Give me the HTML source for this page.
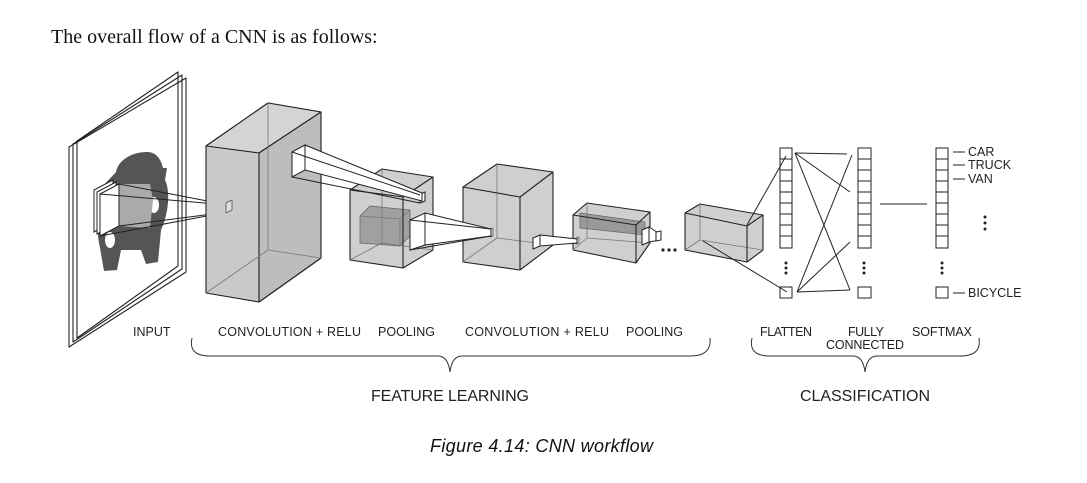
<!DOCTYPE html>
<html><head><meta charset="utf-8"><style>
html,body{margin:0;padding:0;background:#fff;width:1087px;height:483px;overflow:hidden}
svg{display:block}
</style></head><body>
<svg width="1087" height="483" viewBox="0 0 1087 483" xmlns="http://www.w3.org/2000/svg">
<text x="51" y="43" font-family="Liberation Serif, serif" font-size="20" fill="#111">The overall flow of a CNN is as follows:</text>

<g stroke="#222" stroke-width="1.1" fill="none" stroke-linejoin="round">
<polygon points="77,141 178,72 178,266 77,338"/>
<polygon points="73,144 182,75 182,269 73,342"/>
<polygon points="69,147 186,78 186,272 69,347"/>
</g>
<!-- car -->
<path d="M116,172 C118,160 132,152 147,152 C157,152 161,160 163,168 L167,168 L165,180 C171,192 168,215 161,230 L158,262 L146,264 L141,250 L121,250 L117,270 L104,271 L100,248 C96,230 96,200 101,188 Z" fill="#555"/>
<ellipse cx="154" cy="205" rx="5" ry="8" fill="#fff"/>
<ellipse cx="110" cy="240" rx="5" ry="8" fill="#fff"/>
<path d="M118,184 L150,184 L153,200 L150,228 L118,226 Z" fill="#aaa"/>
<!-- input patch -->
<g stroke="#222" stroke-width="1" fill="#fff">
<polygon points="94,190 113,180 113,222 94,232"/>
<polygon points="97,192 116,182 116,224 97,234"/>
<polygon points="100,194 119,184 119,226 100,236"/>
<line x1="119" y1="184" x2="228" y2="205"/>
<line x1="119" y1="226" x2="228" y2="212"/>
<line x1="100" y1="194" x2="228" y2="205"/>
<line x1="100" y1="236" x2="228" y2="212"/>
</g>

<g stroke="#222" stroke-width="1.1" stroke-linejoin="round">
<polygon points="206,146 268,103 321,112 321,258 259,302 206,293" fill="#c9c9c9"/>
<polygon points="206,146 268,103 321,112 259,153" fill="#d4d4d4"/>
<polygon points="259,153 321,112 321,258 259,302" fill="#bdbdbd"/>
<g stroke="#777" stroke-width="0.8" fill="none"><polyline points="268,103 268,250 321,258"/><line x1="268" y1="250" x2="206" y2="293"/></g>
<polygon points="226,203 232,200 232,210 226,213" fill="#ddd" stroke="#555" stroke-width="0.8"/>

<polygon points="350,190 382,169 433,177 433,250 403,268 350,260" fill="#cfcfcf"/>
<polygon points="360,216 370,206 410,210 410,236 400,246 360,243" fill="#a0a0a0" stroke="#666" stroke-width="0.8"/>
<g stroke="#777" stroke-width="0.8" fill="none"><polyline points="382,169 382,243 433,250"/><line x1="382" y1="243" x2="350" y2="260"/><line x1="360" y1="216" x2="400" y2="219"/><line x1="400" y1="219" x2="410" y2="210"/><line x1="400" y1="219" x2="400" y2="246"/></g>
<polyline points="350,190 403,197 433,177" fill="none"/>
<line x1="403" y1="197" x2="403" y2="268"/>
<polygon points="420,194 425,192 425,201 420,203" fill="#fff"/>

<polygon points="463,187 497,164 553,172 553,245 520,270 463,262" fill="#cfcfcf"/>
<g stroke="#777" stroke-width="0.8" fill="none"><polyline points="497,164 497,238 553,245"/><line x1="497" y1="238" x2="463" y2="262"/></g>
<polyline points="463,187 520,197 553,172" fill="none"/>
<line x1="520" y1="197" x2="520" y2="270"/>
<polygon points="490,229 493,228 493,236 490,237" fill="#ddd" stroke="#555" stroke-width="0.7"/>

<polygon points="573,215 587,203 650,212 650,243 636,263 573,250" fill="#cfcfcf"/>
<polygon points="580,213 645,222 645,235 580,228" fill="#999" stroke="#666" stroke-width="0.7"/>
<g stroke="#777" stroke-width="0.8" fill="none"><polyline points="587,203 587,238 650,243"/><line x1="587" y1="238" x2="573" y2="250"/></g>
<polyline points="573,215 636,225 650,212" fill="none"/>
<line x1="636" y1="225" x2="636" y2="263"/>
<polygon points="576,238 579,237 579,243 576,244" fill="#ddd" stroke="#555" stroke-width="0.7"/>

<polygon points="685,213 700,204 763,215 763,250 747,262 685,250" fill="#cfcfcf"/>
<g stroke="#777" stroke-width="0.8" fill="none"><polyline points="700,204 700,240 763,250"/><line x1="700" y1="240" x2="685" y2="250"/></g>
<polyline points="685,213 747,226 763,215" fill="none"/>
<line x1="747" y1="226" x2="747" y2="262"/>
</g>

<g stroke="#222" stroke-width="1" fill="#fff">
<polygon points="305,145 422,193 422,201 305,170"/>
<polygon points="292,152 305,145 305,170 292,177"/>
<line x1="292" y1="177" x2="420" y2="203"/>
<line x1="292" y1="152" x2="420" y2="195"/>
<polygon points="425,213 491,229 491,236 425,245"/>
<polygon points="410,220 425,213 425,245 410,250"/>
<line x1="410" y1="250" x2="491" y2="236"/>
<line x1="410" y1="220" x2="491" y2="229"/>
<polygon points="540,235 577,239 577,243 540,246"/>
<polygon points="533,238 540,235 540,246 533,249"/>
<polygon points="649,227 660,234 660,240 649,242"/>
<polygon points="642,230 649,227 649,242 642,245"/>
<polygon points="656,232 661,231 661,240 656,241"/>
</g>
<g fill="#222"><circle cx="663" cy="250" r="1.6"/><circle cx="669" cy="250" r="1.6"/><circle cx="675" cy="250" r="1.6"/></g>

<g stroke="#222" stroke-width="1" fill="#fff">
<rect x="780" y="148" width="12" height="100"/>
<rect x="858" y="148" width="13" height="100"/>
<rect x="936" y="148" width="12" height="100"/>
<rect x="780" y="287" width="12" height="11"/>
<rect x="858" y="287" width="13" height="11"/>
<rect x="936" y="287" width="12" height="11"/>
</g>
<g stroke="#222" stroke-width="1">
<path d="M780,159h12M780,170h12M780,181h12M780,192h12M780,203h12M780,214h12M780,225h12M780,236h12"/>
<path d="M858,159h13M858,170h13M858,181h13M858,192h13M858,203h13M858,214h13M858,225h13M858,236h13"/>
<path d="M936,159h12M936,170h12M936,181h12M936,192h12M936,203h12M936,214h12M936,225h12M936,236h12"/>
<line x1="747" y1="225" x2="786" y2="156"/>
<line x1="703" y1="241" x2="787" y2="292"/>
<line x1="795" y1="153" x2="847" y2="154"/>
<line x1="795" y1="153" x2="850" y2="192"/>
<line x1="795" y1="153" x2="850" y2="290"/>
<line x1="797" y1="292" x2="852" y2="155"/>
<line x1="797" y1="292" x2="850" y2="242"/>
<line x1="797" y1="292" x2="850" y2="290"/>
<line x1="880" y1="204" x2="927" y2="204"/>
<line x1="953" y1="152" x2="965" y2="152"/>
<line x1="953" y1="165" x2="965" y2="165"/>
<line x1="953" y1="179" x2="965" y2="179"/>
<line x1="953" y1="293" x2="965" y2="293"/>
</g>
<g fill="#222">
<circle cx="786" cy="263" r="1.5"/><circle cx="786" cy="268" r="1.5"/><circle cx="786" cy="273" r="1.5"/>
<circle cx="864" cy="263" r="1.5"/><circle cx="864" cy="268" r="1.5"/><circle cx="864" cy="273" r="1.5"/>
<circle cx="942" cy="263" r="1.5"/><circle cx="942" cy="268" r="1.5"/><circle cx="942" cy="273" r="1.5"/>
<circle cx="985" cy="217" r="1.5"/><circle cx="985" cy="223" r="1.5"/><circle cx="985" cy="229" r="1.5"/>
</g>

<g font-family="Liberation Sans, sans-serif" font-size="12.5" fill="#222">
<text x="968" y="156">CAR</text>
<text x="968" y="169">TRUCK</text>
<text x="968" y="183">VAN</text>
<text x="968" y="297">BICYCLE</text>
<text x="133" y="336">INPUT</text>
<text x="218" y="336" textLength="143">CONVOLUTION + RELU</text>
<text x="378" y="336" textLength="57">POOLING</text>
<text x="465" y="336" textLength="144">CONVOLUTION + RELU</text>
<text x="626" y="336" textLength="57">POOLING</text>
<text x="760" y="336" textLength="52">FLATTEN</text>
<text x="848" y="336" textLength="36">FULLY</text>
<text x="826" y="349" textLength="78">CONNECTED</text>
<text x="912" y="336" textLength="60">SOFTMAX</text>
</g>
<g font-family="Liberation Sans, sans-serif" font-size="16" fill="#222">
<text x="371" y="401" textLength="158">FEATURE LEARNING</text>
<text x="800" y="401" textLength="130">CLASSIFICATION</text>
</g>

<g stroke="#333" stroke-width="1" fill="none">
<path d="M192,338 Q188,356 210,356 L438,356 Q448,356 450,372 Q452,356 462,356 L690,356 Q712,356 710,338"/>
<path d="M752,338 Q748,356 770,356 L853,356 Q863,356 865,372 Q867,356 877,356 L960,356 Q982,356 979,338"/>
</g>

<text x="430" y="452" font-family="Liberation Sans, sans-serif" font-style="italic" font-size="18" fill="#111" textLength="223">Figure 4.14: CNN workflow</text>
</svg>
</body></html>
